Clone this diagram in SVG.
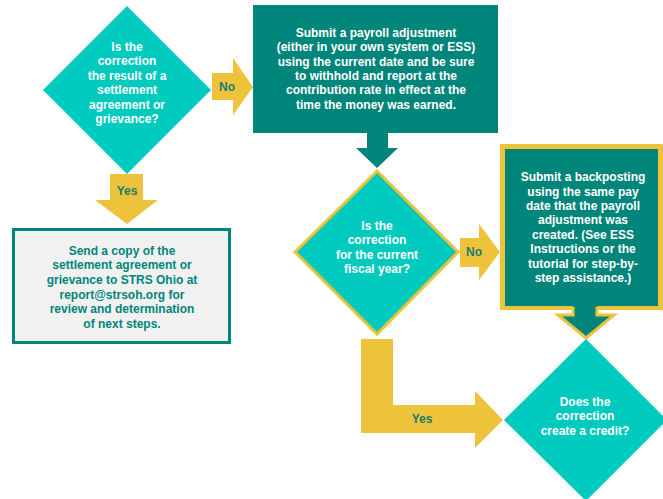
<svg xmlns="http://www.w3.org/2000/svg" width="663" height="499" viewBox="0 0 663 499">
<style>
text{font-family:"Liberation Sans",Arial,sans-serif;font-weight:bold;font-size:12px;text-anchor:middle;dominant-baseline:central}
.w{fill:#ffffff}
.t{fill:#00857a}
.lbl{fill:#1c7d72;font-size:12px}
.dia{fill:#00c9bd}
.dk{fill:#00857a}
.yel{fill:#edc33b}
</style>
<rect width="663" height="499" fill="#ffffff"/>
<g id="q1">
<polygon class="dia" points="127,6 211,90 127,174 43,90"/>
<text class="w"><tspan x="127" y="47">Is the</tspan><tspan x="127" y="61">correction</tspan><tspan x="127" y="76">the result of a</tspan><tspan x="127" y="90">settlement</tspan><tspan x="127" y="105">agreement or</tspan><tspan x="127" y="119">grievance?</tspan></text>
</g>
<g id="adjust">
<rect class="dk" x="253" y="5" width="245" height="128"/>
<text class="w"><tspan x="376" y="33">Submit a payroll adjustment</tspan><tspan x="376" y="47">(either in your own system or ESS)</tspan><tspan x="376" y="62">using the current date and be sure</tspan><tspan x="376" y="76">to withhold and report at the</tspan><tspan x="376" y="90">contribution rate in effect at the</tspan><tspan x="376" y="105">time the money was earned.</tspan></text>
</g>
<g id="send">
<rect x="13.5" y="229.5" width="216" height="113" fill="#f1f1f1" stroke="#00857a" stroke-width="3"/>
<text class="t"><tspan x="122" y="251">Send a copy of the</tspan><tspan x="122" y="265">settlement agreement or</tspan><tspan x="122" y="280">grievance to STRS Ohio at</tspan><tspan x="122" y="295">report@strsoh.org for</tspan><tspan x="122" y="309">review and determination</tspan><tspan x="122" y="324">of next steps.</tspan></text>
</g>
<g id="q2">
<polygon class="dia" points="377,171 458,252 377,334 295,252" stroke="#edc33b" stroke-width="3"/>
<text class="w"><tspan x="377" y="226">Is the</tspan><tspan x="377" y="240">correction</tspan><tspan x="377" y="255">for the current</tspan><tspan x="377" y="269">fiscal year?</tspan></text>
</g>
<g id="backpost">
<rect class="yel" x="500" y="144" width="163" height="166"/>
<rect class="dk" x="505" y="149" width="153" height="157"/>
<text class="w"><tspan x="583" y="177">Submit a backposting</tspan><tspan x="583" y="192">using the same pay</tspan><tspan x="583" y="206">date that the payroll</tspan><tspan x="583" y="220">adjustment was</tspan><tspan x="583" y="235">created. (See ESS</tspan><tspan x="583" y="249">Instructions or the</tspan><tspan x="583" y="264">tutorial for step-by-</tspan><tspan x="583" y="278">step assistance.)</tspan></text>
</g>
<g id="q3">
<polygon class="dia" points="586,339 667,420 586,501 504,420"/>
<text class="w"><tspan x="585" y="402">Does the</tspan><tspan x="585" y="416">correction</tspan><tspan x="585" y="431">create a credit?</tspan></text>
</g>
<g id="connectors">
<polygon class="yel" points="212,73 233,73 233,58 253,87 233,115 233,100 212,100"/>
<text class="lbl" x="227" y="87">No</text>
<polygon class="yel" points="110,174 143,174 143,200 158,200 127,224 95,200 110,200"/>
<text class="lbl" x="127" y="191">Yes</text>
<polygon class="dk" points="367,133 388,133 388,148 398,148 377,168 356,148 367,148"/>
<polygon class="yel" points="460,238 479,238 479,224 500,252 479,280 479,267 460,267"/>
<text class="lbl" x="474" y="252">No</text>
<polygon class="dk" points="573,303 597,303 597,315 614,315 586,338 558,315 573,315"/>
<polyline points="573,307 573,315 558,315 586,338 614,315 597,315 597,307" fill="none" stroke="#edc33b" stroke-width="3" stroke-linejoin="miter"/>
<polygon class="yel" points="361,339 393,339 393,405 475,405 475,391 503,420 475,448 475,433 361,433"/>
<text class="lbl" x="422" y="419">Yes</text>
</g>
</svg>
